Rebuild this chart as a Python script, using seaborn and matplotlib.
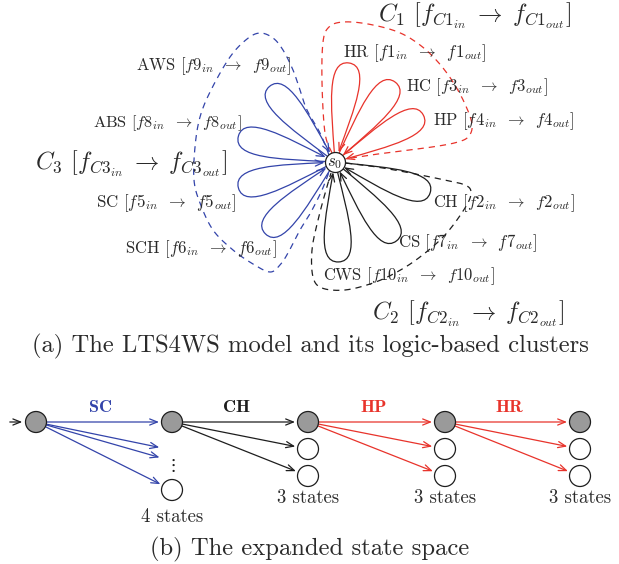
import numpy as np
import pandas as pd
import matplotlib
matplotlib.use("Agg")
import matplotlib.pyplot as plt
from matplotlib.patches import FancyArrowPatch
from matplotlib.path import Path
import seaborn as sns

sns.set_theme(style="white")
plt.rcParams["font.family"] = ["cmr10", "DejaVu Serif"]
plt.rcParams["mathtext.fontset"] = "cm"
plt.rcParams["axes.unicode_minus"] = False
plt.rcParams["axes.formatter.use_mathtext"] = True

BLUE = "#3344aa"
RED = "#e8332b"
BLACK = "#1e1e1e"
GRAY = "#9a9a9a"
TEXT = "#2a2a2a"
cluster_colors = {"C1": RED, "C2": BLACK, "C3": BLUE}

# ---------------- (a) LTS4WS model ----------------
s0 = np.array([335.0, 162.0])
s0_radius = 10.0

loop_names = ["HR", "HC", "HP", "CH", "CS", "CWS", "AWS", "ABS", "SC", "SCH"]
loop_index = ["1", "3", "4", "2", "7", "10", "9", "8", "5", "6"]
loop_cluster = ["C1", "C1", "C1", "C2", "C2", "C2", "C3", "C3", "C3", "C3"]
loop_angle = [82, 53, 28, -18, -52, -88, 131, 165, 195, 226]
# (left x, baseline y, text width) of each loop label
loop_label_box = [(343, 57, 144), (406, 91, 142), (433, 125, 142), (433, 207, 142),
                  (398, 247, 140), (323, 280, 172), (136, 70, 156), (93, 127, 149),
                  (96, 207, 141), (125, 253, 152)]

cluster_names = ["C1", "C2", "C3"]
cluster_digit = ["1", "2", "3"]
cluster_label_box = [(378, 22, 194), (372, 320, 193), (35, 170, 193)]

# outline waypoints of the dashed cluster regions
c1_outline = [(332, 153), (325, 133), (322, 83), (323, 42), (329, 27), (343, 22),
              (368, 24), (398, 32), (420, 45), (438, 62), (453, 82), (465, 104),
              (472, 124), (469, 136), (458, 142), (432, 147), (385, 153), (345, 159)]
c2_outline = [(346, 163), (370, 166), (400, 171), (440, 179), (465, 185), (471, 193),
              (465, 208), (445, 235), (420, 257), (397, 272), (373, 283), (345, 290),
              (322, 288), (313, 277), (312, 250), (318, 220), (326, 190), (331, 173)]
c3_outline = [(329, 155), (320, 133), (307, 110), (300, 90), (293, 70), (283, 50),
              (273, 38), (260, 33), (247, 39), (230, 57), (211, 90), (200, 117),
              (195, 147), (194, 180), (200, 203), (213, 230), (233, 250), (253, 264),
              (270, 272), (280, 265), (288, 253), (300, 230), (311, 212), (322, 190),
              (329, 172)]
outlines = {"C1": c1_outline, "C2": c2_outline, "C3": c3_outline}

# ---------------- (b) expanded state space ----------------
column_x = [36, 172, 308, 445, 580]
step_labels = ["SC", "CH", "HP", "HR"]
step_colors = [BLUE, BLACK, RED, RED]
step_target_y = [[422, 450, 461, 490], [422, 449, 476], [422, 449, 476], [422, 449, 476]]
count_labels = ["4 states", "3 states", "3 states", "3 states"]
count_label_y = [522, 503, 503, 503]

node_x = [36, 172, 172, 308, 308, 308, 445, 445, 445, 580, 580, 580]
node_y = [422, 422, 490, 422, 449, 476, 422, 449, 476, 422, 449, 476]
node_kind = ["current", "current", "other", "current", "other", "other",
             "current", "other", "other", "current", "other", "other"]
node_radius = 10.5

captions = ["(a) The LTS4WS model and its logic-based clusters",
            "(b) The expanded state space"]

W, H = 619, 564
fig = plt.figure(figsize=(W / 100, H / 100), dpi=100)
ax = fig.add_axes([0, 0, 1, 1])
ax.set_xlim(0, W)
ax.set_ylim(H, 0)
renderer = fig.canvas.get_renderer()


def unit(a_deg):
    a = np.radians(a_deg)
    return np.array([np.cos(a), -np.sin(a)])


def catmull_rom(points, n=24):
    pts = np.asarray(points, float)
    P = np.vstack([pts[0], pts, pts[-1]])
    out = []
    t = np.linspace(0, 1, n, endpoint=False)[:, None]
    for i in range(1, len(P) - 2):
        p0, p1, p2, p3 = P[i - 1], P[i], P[i + 1], P[i + 2]
        seg = 0.5 * (2 * p1 + (-p0 + p2) * t + (2 * p0 - 5 * p1 + 4 * p2 - p3) * t ** 2
                     + (-p0 + 3 * p1 - 3 * p2 + p3) * t ** 3)
        out.append(seg)
    out.append(pts[-1][None])
    return np.vstack(out)


def fit_text(x, y, s, width, size0=10.0, **kw):
    """Place text and scale its font so that it spans the given pixel width."""
    t = ax.text(x, y, s, fontsize=size0, **kw)
    w = t.get_window_extent(renderer).width
    t.set_fontsize(size0 * width / w)
    return t


ARROW = "->,head_length=0.55,head_width=0.22"

# self-loops on s0: a tapering neck opening into a rounded tip
for ang, cl in zip(loop_angle, loop_cluster):
    reach, neck, d1, bulge = 100.0, 12.0, 55.0, 23.0
    tip = s0 + reach * unit(ang)
    side = unit(ang + 90)
    start = s0 + s0_radius * unit(ang + neck)
    end = s0 + (s0_radius + 0.5) * unit(ang - neck)
    verts = [start, s0 + d1 * unit(ang + neck), tip + bulge * side, tip,
             tip - bulge * side, s0 + d1 * unit(ang - neck), end]
    codes = [Path.MOVETO] + [Path.CURVE4] * 6
    ax.add_patch(FancyArrowPatch(path=Path(verts, codes), arrowstyle=ARROW,
                                 mutation_scale=10, color=cluster_colors[cl], lw=0.9,
                                 zorder=3))

# dashed cluster regions
for cl in cluster_names:
    pts = catmull_rom(outlines[cl])
    ax.plot(pts[:, 0], pts[:, 1], color=cluster_colors[cl], lw=0.9,
            dashes=(5, 4), zorder=2)

# s0 node
sns.scatterplot(x=[s0[0]], y=[s0[1]], s=(2 * s0_radius * 0.72) ** 2, color="white",
                edgecolor=BLACK, linewidth=0.9, zorder=5, ax=ax, legend=False)
ax.text(s0[0], s0[1] + 1, r"$s_0$", fontsize=12, ha="center", va="center",
        color=BLACK, zorder=6)

# loop labels
for name, idx, (lx, ly, lw) in zip(loop_names, loop_index, loop_label_box):
    fit_text(lx, ly, name + r" [$f%s_{in} \;\;\rightarrow\;\; f%s_{out}$]" % (idx, idx), lw,
             ha="left", va="baseline", color=TEXT, zorder=4)

for d, (lx, ly, lw) in zip(cluster_digit, cluster_label_box):
    fit_text(lx, ly, r"$C_%s$ [$f_{C%s_{in}} \;\rightarrow\; f_{C%s_{out}}$]" % (d, d, d),
             lw, size0=15, ha="left", va="baseline", color=TEXT, zorder=4)

cap = fit_text(310, 352, captions[0], 560, size0=15, ha="center", va="baseline", color=TEXT)
cap_size = cap.get_fontsize()

# ---------------- (b) ----------------
ax.add_patch(FancyArrowPatch((7, 422), (25, 422), arrowstyle=ARROW,
                             mutation_scale=10, color=BLACK, lw=0.9))

for i, (lab, col, targets) in enumerate(zip(step_labels, step_colors, step_target_y)):
    src = np.array([column_x[i], 422.0])
    for ty in targets:
        tgt = np.array([column_x[i + 1], float(ty)])
        u = (tgt - src) / np.linalg.norm(tgt - src)
        p0 = src + node_radius * u
        p1 = tgt - (node_radius + 2.5) * u
        ax.add_patch(FancyArrowPatch(p0, p1, arrowstyle=ARROW, mutation_scale=10,
                                     color=col, lw=0.9, shrinkA=0, shrinkB=0, zorder=3))
    ax.text((column_x[i] + column_x[i + 1]) / 2 - 3, 412, lab,
            family=["cmb10", "DejaVu Serif"], fontsize=13, ha="center", va="baseline",
            color=col)

nodes = pd.DataFrame({"x": node_x, "y": node_y, "kind": node_kind})
sns.scatterplot(data=nodes, x="x", y="y", hue="kind",
                palette={"current": GRAY, "other": "white"},
                s=(2 * node_radius * 0.72) ** 2, edgecolor=BLACK, linewidth=0.9,
                zorder=5, ax=ax, legend=False)

ax.text(column_x[1], 466, r"$\vdots$", fontsize=13, ha="center", va="center", color=BLACK)

for cx, lab, ly in zip(column_x[1:], count_labels, count_label_y):
    ax.text(cx, ly, lab, fontsize=13.5, ha="center", va="baseline", color=TEXT)

ax.text(310, 555, captions[1], fontsize=cap_size, ha="center", va="baseline", color=TEXT)

ax.set_xlim(0, W)
ax.set_ylim(H, 0)
ax.axis("off")
fig.savefig("out.png", dpi=100, facecolor="white")
